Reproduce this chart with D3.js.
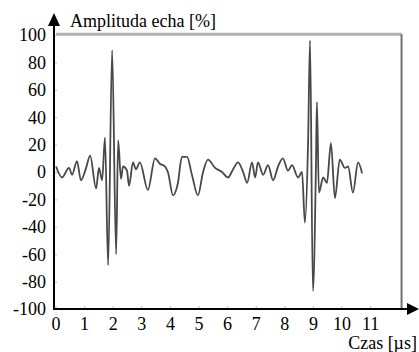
<!DOCTYPE html>
<html>
<head>
<meta charset="utf-8">
<script src="https://cdn.jsdelivr.net/npm/d3@7"></script>
<style>
  body { margin: 0; background: #fff; }
  svg { display: block; }
  text { font-family: "Liberation Serif", "Times New Roman", serif; fill: #000; }
</style>
</head>
<body>
<div id="chart"></div>
<script>
// echo signal (time in us, amplitude in %)
var times = [0.02, 0.23, 0.47, 0.58, 0.75, 0.89, 1.07, 1.21, 1.42, 1.52, 1.63, 1.73, 1.84, 1.98, 2.12, 2.19,
  2.29, 2.36, 2.50, 2.57, 2.71, 2.81, 2.95, 3.23, 3.48, 3.65, 3.83, 3.93, 4.11, 4.28, 4.42, 4.60, 4.77,
  4.98, 5.16, 5.33, 5.58, 5.82, 6.03, 6.21, 6.38, 6.56, 6.70, 6.87, 6.98, 7.08, 7.26, 7.43, 7.61, 7.78,
  7.95, 8.13, 8.27, 8.48, 8.62, 8.72, 8.83, 8.90, 9.00, 9.11, 9.14, 9.21, 9.36, 9.49, 9.63, 9.77, 9.94,
  10.12, 10.23, 10.40, 10.58, 10.72];
var amplitude = [4, -4, 3, -2, 8, -6, 3, 12, -12, 3, -6, 25, -68, 89, -60, 23,
  -5, 4, 1, -10, 7, 2, 7, -13, 10, 6, 4, 0, -17, -8, 11, 11, -2,
  -17, 0, 9, 3, 0, -4, 2, 7, 0, -8, 7, -4, 7, -2, 5, -6, 4,
  10, 1, 5, -4, 0, -37, 20, 96, -87, 10, 51, -15, -4, -8, 21, -19, 9,
  3, 4, -15, 7, -1];

var xTicks = [0, 1, 2, 3, 4, 5, 6, 7, 8, 9, 10, 11];
var yTicks = [-100, -80, -60, -40, -20, 0, 20, 40, 60, 80, 100];

var width = 419, height = 352;
var svg = d3.select("#chart").append("svg")
    .attr("width", width)
    .attr("height", height);

var x = d3.scaleLinear().domain([0, 1]).range([55.5, 84.1]);
var y = d3.scaleLinear().domain([-100, 100]).range([309, 35]);

// grey frame top and right
svg.append("line")
    .attr("x1", 56).attr("x2", x(12.1))
    .attr("y1", y(100.5)).attr("y2", y(100.5))
    .attr("stroke", "#b0b0b0").attr("stroke-width", 3);
svg.append("line")
    .attr("x1", x(12.1)).attr("x2", x(12.1))
    .attr("y1", y(100.5)).attr("y2", y(-100))
    .attr("stroke", "#707070").attr("stroke-width", 2);

// signal
var line = d3.line()
    .x(function(d, i){ return x(times[i]); })
    .y(function(d){ return y(d); })
    .curve(d3.curveMonotoneX);

svg.append("path")
    .datum(amplitude)
    .attr("d", line)
    .attr("fill", "none")
    .attr("stroke", "#484848")
    .attr("stroke-width", 1.8)
    .attr("stroke-linejoin", "round");

// axes (ticks + labels from d3, the arrow lines are drawn by hand)
var yAxis = svg.append("g")
    .attr("transform", "translate(54,0)")
    .call(d3.axisLeft(y).tickValues(yTicks).tickSize(-3).tickPadding(8)
        .tickFormat(function(d){ return String(d); }));
yAxis.select(".domain").remove();
yAxis.selectAll(".tick line").attr("stroke", "#bbb");
yAxis.selectAll("text").attr("font-size", 18).attr("dy", "0.33em")
    .style("font-family", "'Liberation Serif', serif");

var xAxis = svg.append("g")
    .attr("transform", "translate(0,309)")
    .call(d3.axisBottom(x).tickValues(xTicks).tickSize(-3).tickPadding(8)
        .tickFormat(function(d){ return String(d); }));
xAxis.select(".domain").remove();
xAxis.selectAll(".tick line").attr("stroke", "#bbb");
xAxis.selectAll("text").attr("font-size", 18).attr("dy", "0.71em")
    .style("font-family", "'Liberation Serif', serif");

// y axis line with arrow
svg.append("line")
    .attr("x1", 54).attr("x2", 54)
    .attr("y1", 310).attr("y2", 22)
    .attr("stroke", "#000").attr("stroke-width", 2);
svg.append("path")
    .attr("d", "M54,13 L48,26 L60,26 Z")
    .attr("fill", "#000");

// x axis line with arrow
svg.append("line")
    .attr("x1", 53).attr("x2", 410)
    .attr("y1", 309).attr("y2", 309)
    .attr("stroke", "#000").attr("stroke-width", 2);
svg.append("path")
    .attr("d", "M419,309 L407,303 L407,315 Z")
    .attr("fill", "#000");

// titles
svg.append("text")
    .attr("x", 70).attr("y", 27)
    .attr("font-size", 18)
    .text("Amplituda echa [%]");
svg.append("text")
    .attr("x", 417).attr("y", 349)
    .attr("text-anchor", "end")
    .attr("font-size", 18)
    .text("Czas [µs]");
</script>
</body>
</html>
